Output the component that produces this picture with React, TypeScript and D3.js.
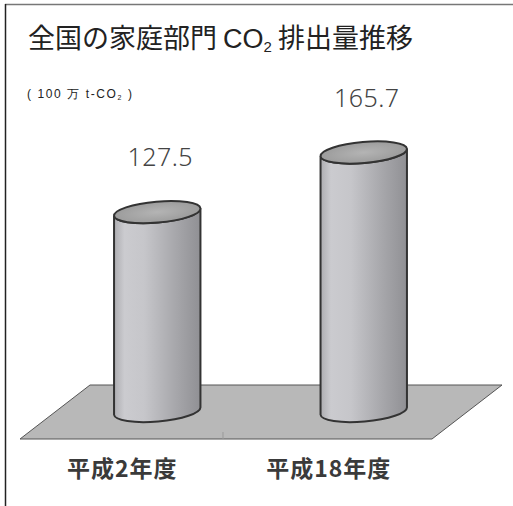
import React, { useEffect, useRef } from 'react';
import * as d3 from 'd3';

// data
const categories = ['平成2年度', '平成18年度'];
const values = [127.5, 165.7];
const valueLabels = ['127.5', '165.7'];

const W = 513;
const H = 506;

const App: React.FC = () => {
  const svgRef = useRef<SVGSVGElement>(null);

  useEffect(() => {
    if (!svgRef.current) return;
    const svg = d3.select(svgRef.current);
    svg.selectAll('*').remove();

    // scales
    const x = d3.scaleBand<string>()
      .domain(categories)
      .range([54, 467])
      .paddingInner(0.58)
      .paddingOuter(0.29);
    const y = d3.scaleLinear().domain([0, 170]).range([411, 145.8]);

    const rx = x.bandwidth() / 2;
    const ry = 10.5;
    const tilt = -5; // degrees
    const rad = (tilt * Math.PI) / 180;

    const defs = svg.append('defs');
    const grad = defs.append('linearGradient')
      .attr('id', 'cyl-body')
      .attr('x1', '0%').attr('x2', '100%')
      .attr('y1', '0%').attr('y2', '0%');
    [
      ['0%', '#adadb1'],
      ['12%', '#cbcbcf'],
      ['35%', '#c6c6ca'],
      ['70%', '#a8a8ac'],
      ['100%', '#909094']
    ].forEach(([o, c]) => grad.append('stop').attr('offset', o).attr('stop-color', c));

    const topGrad = defs.append('radialGradient').attr('id', 'cyl-top');
    topGrad.append('stop').attr('offset', '0%').attr('stop-color', '#b4b4b4');
    topGrad.append('stop').attr('offset', '100%').attr('stop-color', '#9c9c9c');

    // frame
    svg.append('line')
      .attr('x1', 5).attr('x2', W).attr('y1', 4.5).attr('y2', 4.5)
      .attr('stroke', '#777').attr('stroke-width', 1.5);
    svg.append('line')
      .attr('x1', 5.5).attr('x2', 5.5).attr('y1', 4).attr('y2', H)
      .attr('stroke', '#222').attr('stroke-width', 1.5);

    // title
    const t = svg.append('text')
      .attr('x', 28)
      .attr('y', 48)
      .attr('font-family', '"Noto Sans CJK JP", "Noto Sans", sans-serif')
      .attr('font-size', 27)
      .attr('fill', '#222');
    t.append('tspan').text('全国の家庭部門 ');
    t.append('tspan').attr('font-family', '"Liberation Sans", Arial, sans-serif').text('CO');
    t.append('tspan').attr('font-family', '"Liberation Sans", Arial, sans-serif').attr('font-size', 15).attr('dy', 4).text('2');
    t.append('tspan').attr('dy', -4).text(' 排出量推移');

    // unit label
    const u = svg.append('text')
      .attr('x', 27)
      .attr('y', 98)
      .attr('font-family', '"Liberation Sans", Arial, sans-serif')
      .attr('font-size', 12)
      .attr('letter-spacing', 1.6)
      .attr('fill', '#222');
    u.append('tspan').text('( 100 万 t-CO');
    u.append('tspan').attr('font-size', 7).attr('dy', 2).text('2');
    u.append('tspan').attr('dy', -2).text(' )');

    // floor
    const floor: [number, number][] = [[90, 385], [502, 385], [432, 439], [20, 439]];
    svg.append('path')
      .attr('d', d3.line()(floor) + 'Z')
      .attr('fill', '#b8b8b8')
      .attr('stroke', '#555')
      .attr('stroke-width', 1);
    svg.append('line')
      .attr('x1', 223).attr('x2', 223).attr('y1', 432).attr('y2', 439)
      .attr('stroke', '#999').attr('stroke-width', 1);

    // cylinders
    const g = svg.selectAll('g.cyl')
      .data(categories.map((c, i) => ({ c, v: values[i], label: valueLabels[i] })))
      .enter()
      .append('g')
      .attr('class', 'cyl');

    g.each(function (d) {
      const sel = d3.select(this);
      const cx = (x(d.c) as number) + rx;
      const yTop = y(d.v);
      const yBot = y(0);
      const dx = rx * Math.cos(rad);
      const dy = rx * Math.sin(rad);
      const lt = [cx - dx, yTop - dy];
      const rt = [cx + dx, yTop + dy];
      const lb = [cx - dx, yBot - dy];
      const rb = [cx + dx, yBot + dy];
      const body = `M${lt[0]},${lt[1]} L${lb[0]},${lb[1]} A${rx},${ry} ${tilt} 0 0 ${rb[0]},${rb[1]} L${rt[0]},${rt[1]} A${rx},${ry} ${tilt} 0 1 ${lt[0]},${lt[1]} Z`;
      sel.append('path')
        .attr('d', body)
        .attr('fill', 'url(#cyl-body)')
        .attr('stroke', '#333')
        .attr('stroke-width', 2);
      sel.append('ellipse')
        .attr('cx', cx)
        .attr('cy', yTop)
        .attr('rx', rx)
        .attr('ry', ry)
        .attr('transform', `rotate(${tilt},${cx},${yTop})`)
        .attr('fill', 'url(#cyl-top)')
        .attr('stroke', '#333')
        .attr('stroke-width', 2);
      sel.append('text')
        .attr('x', cx + 3)
        .attr('y', yTop - 46)
        .attr('text-anchor', 'middle')
        .attr('font-family', '"Noto Sans", sans-serif')
        .attr('font-weight', 300)
        .attr('font-size', 25)
        .attr('letter-spacing', 0.5)
        .attr('fill', '#444')
        .text(d.label);
      sel.append('text')
        .attr('x', cx - 35)
        .attr('y', 477)
        .attr('text-anchor', 'middle')
        .attr('font-family', '"Noto Sans CJK JP", sans-serif')
        .attr('font-weight', 700)
        .attr('font-size', 23)
        .attr('letter-spacing', 1)
        .attr('fill', '#3a3a3a')
        .text(d.c);
    });
  }, []);

  return (
    <div style={{ position: 'absolute', left: 0, top: 0, width: W, height: H, background: '#fff' }}>
      <svg ref={svgRef} width={W} height={H}></svg>
    </div>
  );
};

export default App;
